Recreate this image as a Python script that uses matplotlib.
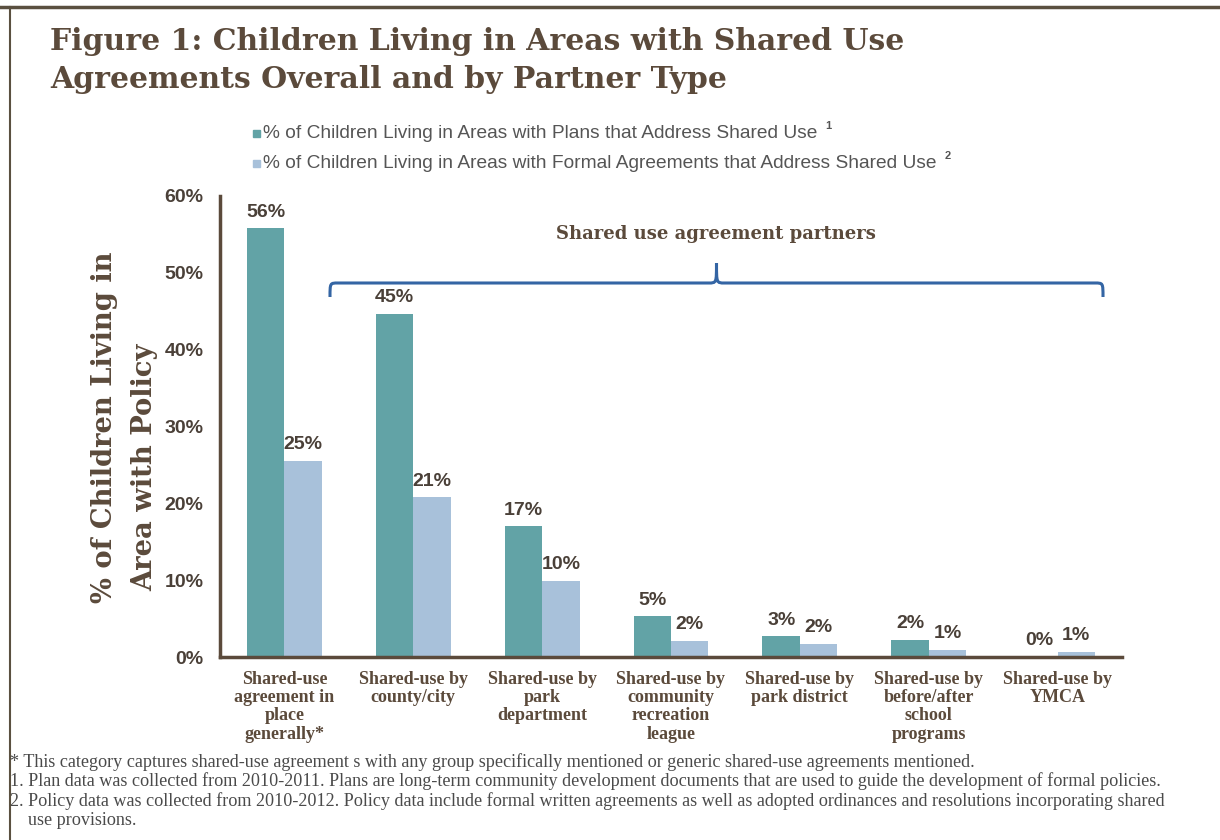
import matplotlib
matplotlib.use("Agg")
import matplotlib.pyplot as plt
import numpy as np
from matplotlib.path import Path
from matplotlib.patches import PathPatch, Rectangle
from matplotlib.lines import Line2D

categories = [
    "Shared-use\nagreement in\nplace\ngenerally*",
    "Shared-use by\ncounty/city",
    "Shared-use by\npark\ndepartment",
    "Shared-use by\ncommunity\nrecreation\nleague",
    "Shared-use by\npark district",
    "Shared-use by\nbefore/after\nschool\nprograms",
    "Shared-use by\nYMCA",
]
plans = [55.8, 44.7, 17.0, 5.3, 2.7, 2.2, 0.1]
formal = [25.5, 20.8, 9.9, 2.1, 1.7, 0.9, 0.7]
plans_labels = ["56%", "45%", "17%", "5%", "3%", "2%", "0%"]
formal_labels = ["25%", "21%", "10%", "2%", "2%", "1%", "1%"]
yticks = [0, 10, 20, 30, 40, 50, 60]
legend_labels = ["% of Children Living in Areas with Plans that Address Shared Use",
                 "% of Children Living in Areas with Formal Agreements that Address Shared Use"]
legend_sup = ["1", "2"]
title_lines = ["Figure 1: Children Living in Areas with Shared Use",
               "Agreements Overall and by Partner Type"]
ylabel_lines = ["% of Children Living in", "Area with Policy"]
bracket_text = "Shared use agreement partners"
footnotes = [
    "* This category captures shared-use agreement s with any group specifically mentioned or generic shared-use agreements mentioned.",
    "1. Plan data was collected from 2010-2011. Plans are long-term community development documents that are used to guide the development of formal policies.",
    "2. Policy data was collected from 2010-2012. Policy data include formal written agreements as well as adopted ordinances and resolutions incorporating shared",
    "    use provisions.",
]

TEAL = "#62a3a6"
LIGHT = "#a8c1da"
BROWN = "#5b4a3b"
TXT = "#4a4038"
BLUE = "#3465a4"
SERIF_W = ["DejaVu Serif"]
SERIF = ["Liberation Serif", "DejaVu Serif"]
SANS = ["Liberation Sans", "DejaVu Sans"]

W, H = 1220, 840
fig = plt.figure(figsize=(W / 100, H / 100), dpi=100)
fig.patch.set_facecolor("white")
renderer = fig.canvas.get_renderer()


def fx(px):
    return px / W


def fy(py):
    return 1 - py / H


def fit(t, target, horizontal=True):
    """Scale a text's font size so that its extent matches target pixels."""
    for _ in range(3):
        bb = t.get_window_extent(renderer=renderer)
        cur = bb.width if horizontal else bb.height
        t.set_fontsize(t.get_fontsize() * target / cur)
    return t


# axes: left 220, right 1122, top 196, bottom 657
ax = fig.add_axes([fx(220), fy(657), fx(1122 - 220), (657 - 196) / H])
x = np.arange(len(categories))
bw = 0.29
ax.bar(x - bw / 2, plans, bw, color=TEAL)
ax.bar(x + bw / 2, formal, bw, color=LIGHT)
for i in range(len(x)):
    ax.text(x[i] - bw / 2, plans[i] + 1.0, plans_labels[i], ha="center", va="bottom",
            fontsize=14, fontweight="bold", color=TXT, family=SANS)
    ax.text(x[i] + bw / 2, formal[i] + 1.0, formal_labels[i], ha="center", va="bottom",
            fontsize=14, fontweight="bold", color=TXT, family=SANS)
ax.set_xlim(-0.5, len(x) - 0.5)
ax.set_ylim(0, 60)
ax.set_yticks(yticks)
ax.set_yticklabels([f"{v}%" for v in yticks], fontsize=14, fontweight="bold",
                   color=TXT, family=SANS)
ax.set_xticks(x)
ax.set_xticklabels(categories, fontsize=13, fontweight="bold", color=BROWN,
                   family=SERIF, linespacing=1.1)
ax.tick_params(axis="both", length=0)
ax.tick_params(axis="y", pad=12)
ax.tick_params(axis="x", pad=10)
for s in ["top", "right"]:
    ax.spines[s].set_visible(False)
for s in ["left", "bottom"]:
    ax.spines[s].set_color(BROWN)
    ax.spines[s].set_linewidth(2.5)

# y label (two lines, each fitted)
t1 = fig.text(fx(105), fy(427), ylabel_lines[0], rotation=90, ha="center", va="center",
              fontsize=22, fontweight="bold", color=BROWN, family=SERIF_W)
fit(t1, 353, horizontal=False)
fig.text(fx(145), fy(467), ylabel_lines[1], rotation=90, ha="center", va="center",
         fontsize=t1.get_fontsize(), fontweight="bold", color=BROWN, family=SERIF_W)

# title
tt = fig.text(fx(50), fy(42), title_lines[0], ha="left", va="center", fontsize=22,
              fontweight="bold", color=BROWN, family=SERIF_W)
fit(tt, 857)
fig.text(fx(50), fy(80), title_lines[1], ha="left", va="center", fontsize=tt.get_fontsize(),
         fontweight="bold", color=BROWN, family=SERIF_W)

# legend
legend_widths = [557, 674]
lsize = None
for j, (lab, sup, col) in enumerate(zip(legend_labels, legend_sup, [TEAL, LIGHT])):
    yy = 133 + 30 * j
    fig.patches.append(Rectangle((fx(253), fy(yy + 4)), 7 / W, 7 / H,
                                 transform=fig.transFigure, color=col))
    t = fig.text(fx(263), fy(yy), lab, ha="left", va="center", fontsize=12,
                 color="#555555", family=SANS)
    if lsize is None:
        fit(t, legend_widths[0])
        lsize = t.get_fontsize()
    else:
        t.set_fontsize(lsize)
    bb = t.get_window_extent(renderer=renderer)
    fig.text(bb.x1 / W + 8 / W, fy(yy - 7), sup, ha="left", va="center", fontsize=8,
             fontweight="bold", color="#555555", family=SANS)

# bracket
x0, x1, ym, yend, ypk = 330, 1103, 283, 297, 263
xc = (x0 + x1) / 2
r = 8
verts = [
    (x0, yend), (x0, ym), (x0, ym), (x0 + r, ym),
    (xc - r, ym),
    (xc, ym), (xc, ym), (xc, ypk),
    (xc, ym), (xc, ym), (xc + r, ym),
    (x1 - r, ym),
    (x1, ym), (x1, ym), (x1, yend),
]
codes = [Path.MOVETO, Path.CURVE4, Path.CURVE4, Path.CURVE4,
         Path.LINETO,
         Path.CURVE4, Path.CURVE4, Path.CURVE4,
         Path.CURVE4, Path.CURVE4, Path.CURVE4,
         Path.LINETO,
         Path.CURVE4, Path.CURVE4, Path.CURVE4]
verts = [(fx(a), fy(b)) for a, b in verts]
fig.patches.append(PathPatch(Path(verts, codes), transform=fig.transFigure,
                             facecolor="none", edgecolor=BLUE, linewidth=2.2))
tb = fig.text(fx(716), fy(234), bracket_text, ha="center", va="center", fontsize=14,
              fontweight="bold", color=BROWN, family=SERIF_W)
fit(tb, 321)

# footnotes
fn_texts = []
for k, fn in enumerate(footnotes):
    t = fig.text(fx(10), fy(762 + 19.5 * k), fn, ha="left", va="center", fontsize=12,
                 color="#4a4a4a", family=SERIF)
    fn_texts.append(t)
fit(fn_texts[1], 1150)
for t in fn_texts:
    t.set_fontsize(fn_texts[1].get_fontsize())

# border
fig.add_artist(Line2D([0, 1], [fy(7), fy(7)], transform=fig.transFigure,
                      color="#5a5040", linewidth=2.5))
fig.add_artist(Line2D([fx(10), fx(10)], [fy(7), 0], transform=fig.transFigure,
                      color="#5a5040", linewidth=1.5))

fig.savefig("out.png", dpi=100)
